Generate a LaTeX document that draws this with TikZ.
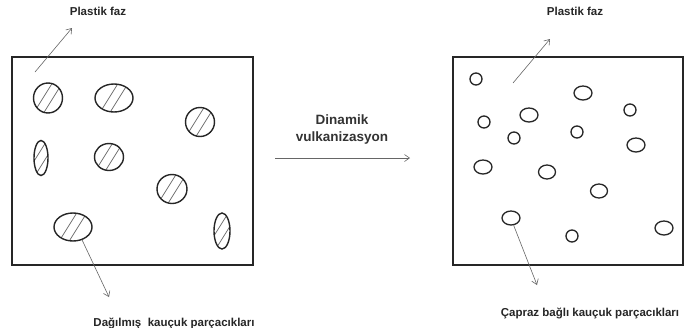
\documentclass[tikz,border=0pt]{standalone}
\usepackage{fontspec}
\setmainfont{Liberation Sans}
\usetikzlibrary{arrows.meta,shapes.geometric}
\tikzset{
  frame/.style={draw=black!85, line width=1.3pt},
  rubber/.style={ellipse, draw=black!85, line width=1.4pt, inner sep=0pt, minimum width=2*#1},
  hatched/.style={path picture={
    \begin{scope}[shift={(path picture bounding box.center)}]
      \draw[black!60, line width=0.7pt] (-15,16) -- (5,-16);
      \draw[black!60, line width=0.7pt] (-5,16) -- (15,-16);
    \end{scope}}},
  pointer/.style={draw=black!60, line width=0.6pt, -{Straight Barb[length=5pt,width=7pt]}},
  lbl/.style={font=\bfseries\fontsize{11.5}{13}\selectfont, inner sep=0pt, text=black!85},
  midlbl/.style={font=\bfseries\fontsize{13.5}{17}\selectfont, inner sep=0pt, align=center, text=black!80},
}
\begin{document}
\begin{tikzpicture}[x=1pt,y=-1pt]
\useasboundingbox (0,0) rectangle (685,327);
\fill[white] (0,0) rectangle (685,327);
% boxes
\draw[frame] (12,57) rectangle (253,265);
\draw[frame] (453,57) rectangle (683,265);
% left particles
\node[rubber=14.5, minimum height=30pt, hatched] (e1) at (48,98) {};
\node[rubber=19, minimum height=28pt, hatched] (e2) at (114,98) {};
\node[rubber=14.5, minimum height=29pt, hatched] (e3) at (200,122) {};
\node[rubber=7, minimum height=35pt, hatched] (e4) at (41,158) {};
\node[rubber=14.5, minimum height=27pt, hatched] (e5) at (109,157) {};
\node[rubber=15, minimum height=29pt, hatched] (e6) at (172,189) {};
\node[rubber=19, minimum height=28pt, hatched] (e7) at (73,227) {};
\node[rubber=8, minimum height=36pt, hatched] (e8) at (222,231) {};
% right particles
\foreach \n/\x/\y/\rx/\ry in {a/476/79/6/6, b/583/93/9/7, c/529/115/9/7, d/630/110/6/6,
  e/484/122/6/6, f/514/138/6/6, g/577/132/6/6, h/636/145/9/7, i/483/167/9/7,
  j/547/172/8.5/7, k/599/191/8.5/7, l/511/218/9/7, m/572/236/6/6, n/664/228/9/7}
  \node[rubber=\rx, minimum height=2*\ry, line width=1.3pt] (c\n) at (\x,\y) {};
% labels
\node[lbl] (pf1) at (98,11) {Plastik faz};
\node[lbl] (pf2) at (575,11) {Plastik faz};
\node[lbl] (dk) at (174,323) {Dağılmış~ kauçuk parçacıkları};
\node[lbl] (ck) at (590,313) {Çapraz bağlı kauçuk parçacıkları};
\node[midlbl] (dv) at (342,130) {Dinamik\\vulkanizasyon};
% arrows
\coordinate (p1s) at (35,72);
\coordinate (p1e) at (72,28);
\coordinate (p2s) at (513,83);
\coordinate (p2e) at (550,39);
\coordinate (d1e) at (109,297);
\coordinate (d2e) at (537,285);
\coordinate (ms) at (275,158);
\coordinate (me) at (410,158);
\draw[pointer] (p1s) -- (p1e);
\draw[pointer] (p2s) -- (p2e);
\draw[pointer] (e7.-55) -- (d1e);
\draw[pointer] (cl.-70) -- (d2e);
\draw[pointer] (ms) -- (me);
\end{tikzpicture}
\end{document}
